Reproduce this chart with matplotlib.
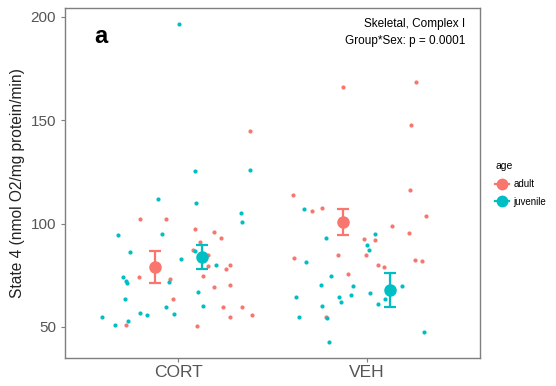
import numpy as np
import matplotlib.pyplot as plt
from matplotlib.lines import Line2D

plt.rcParams['font.family'] = ['Liberation Sans', 'DejaVu Sans']

groups = ["CORT", "VEH"]
ages = ["adult", "juvenile"]
colors = {"adult": "#F8766D", "juvenile": "#00BFC4"}

# raw points: horizontal jitter offset (relative to group) and value
cort_adult_off = [0.381, -0.201, -0.064, 0.090, 0.191, 0.226, 0.115, 0.081, 0.157, 0.160,
                  0.273, 0.252, -0.207, -0.042, 0.134, 0.277, 0.192, -0.025, 0.239, 0.336,
                  0.277, 0.392, -0.275, 0.102]
cort_adult_y = [144.8, 102.1, 102.3, 97.6, 96.1, 93.2, 91.3, 87.3, 84.8, 79.5,
                79.9, 77.9, 74.2, 73.2, 74.7, 70.2, 69.4, 63.7, 59.7, 59.5,
                54.8, 55.7, 51.0, 50.6]

cort_juv_off = [0.005, 0.088, 0.380, -0.106, 0.097, 0.334, 0.341, -0.317, -0.085, -0.258,
                0.016, 0.090, 0.201, -0.291, -0.276, -0.270, -0.051, -0.283, 0.106, -0.067,
                0.131, -0.023, -0.201, -0.163, -0.405, -0.336, -0.264]
cort_juv_y = [196.5, 125.6, 126.0, 111.9, 110.1, 105.2, 100.8, 94.4, 95.0, 86.4,
              82.6, 86.8, 79.9, 74.2, 72.1, 71.4, 71.6, 63.7, 66.8, 59.5,
              60.2, 56.3, 56.9, 55.8, 54.7, 51.0, 53.0]

veh_adult_off = [-0.124, 0.264, 0.235, -0.391, 0.228, -0.290, -0.235, 0.312, 0.134, 0.223,
                 -0.016, 0.046, -0.005, -0.152, -0.384, 0.257, 0.291, 0.058, 0.092, -0.099,
                 -0.214]
veh_adult_y = [166.1, 168.7, 147.6, 113.9, 116.3, 106.3, 107.4, 103.6, 98.9, 95.6,
               92.4, 92.1, 85.0, 84.7, 83.2, 82.3, 81.8, 80.1, 78.9, 75.6,
               55.0]

veh_juv_off = [-0.332, 0.044, -0.214, 0.004, 0.011, -0.320, -0.189, -0.240, -0.073, 0.189,
               -0.374, -0.147, -0.081, 0.020, 0.099, 0.062, -0.134, -0.239, -0.358, -0.208,
               0.305, -0.201]
veh_juv_y = [107.1, 95.0, 93.2, 89.7, 87.1, 81.6, 74.7, 70.3, 70.0, 70.0,
             64.4, 64.5, 65.6, 66.6, 63.5, 61.1, 62.1, 60.3, 54.7, 54.2,
             47.4, 42.6]

# group means and standard errors (CORT, VEH)
adult_mean = [79.0, 100.8]
adult_se = [7.6, 6.3]
juv_mean = [83.7, 68.0]
juv_se = [5.7, 8.2]

points = {
    ("CORT", "adult"): (cort_adult_off, cort_adult_y),
    ("CORT", "juvenile"): (cort_juv_off, cort_juv_y),
    ("VEH", "adult"): (veh_adult_off, veh_adult_y),
    ("VEH", "juvenile"): (veh_juv_off, veh_juv_y),
}
means = {"adult": (adult_mean, adult_se), "juvenile": (juv_mean, juv_se)}
dodge = {"adult": -0.125, "juvenile": 0.125}

fig = plt.figure(figsize=(5.56, 3.86), dpi=100)
ax = fig.add_axes([0.117, 0.073, 0.746, 0.906])

for (g, a), (off, yv) in points.items():
    x = groups.index(g) + np.array(off)
    ax.scatter(x, yv, s=9, color=colors[a], linewidths=0, zorder=2)

for a in ages:
    m, se = means[a]
    x = np.arange(len(groups)) + dodge[a]
    ax.errorbar(x, m, yerr=se, fmt='o', color=colors[a], markersize=8,
                capsize=4, elinewidth=1.6, capthick=1.6, zorder=3)

ax.set_xlim(-0.6, 1.6)
ax.set_ylim(35, 204.3)
ax.set_xticks(range(len(groups)))
ax.set_xticklabels(groups, fontsize=12.5, color="#555555")
ax.set_yticks([50, 100, 150, 200])
ax.tick_params(axis='y', labelsize=11, labelcolor="#555555", color="#7F7F7F", length=3)
ax.tick_params(axis='x', color="#7F7F7F", length=3, pad=2)
for s in ax.spines.values():
    s.set_color("#7F7F7F")
    s.set_linewidth(1.0)
ax.set_ylabel("State 4 (nmol O2/mg protein/min)", fontsize=11.2, color="#222222", labelpad=4)

ax.text(0.07, 0.92, "a", transform=ax.transAxes, fontsize=17, fontweight='bold',
        va='center', ha='left')
ax.text(0.965, 0.955, "Skeletal, Complex I", transform=ax.transAxes, fontsize=8.5,
        ha='right', va='center')
ax.text(0.965, 0.905, "Group*Sex: p = 0.0001", transform=ax.transAxes, fontsize=8.5,
        ha='right', va='center')

handles = [Line2D([], [], color=colors[a], marker='o', markersize=7.5, linewidth=1.6)
           for a in ages]
fig.legend(handles, ages, title="age", loc='upper left', bbox_to_anchor=(0.875, 0.605),
           frameon=False, fontsize=7, title_fontsize=7.5, handlelength=1.4,
           handletextpad=0.5, labelspacing=0.8, alignment='left')

fig.savefig("out.png", dpi=100)
